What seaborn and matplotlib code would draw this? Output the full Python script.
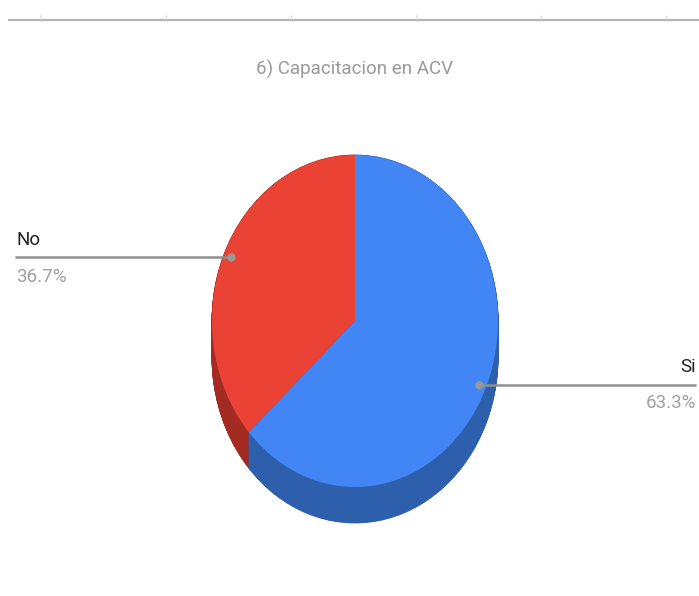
import matplotlib
matplotlib.use("Agg")
import matplotlib.pyplot as plt
import seaborn as sns
import numpy as np

categories = ["No", "Si"]
values = [36.7, 63.3]
pct_labels = ["36.7%", "63.3%"]
title = "6) Capacitacion en ACV"

sns.set_theme(style="white")
plt.rcParams['font.family'] = ['Roboto', 'DejaVu Sans']

W, H = 699, 596
fig = plt.figure(figsize=(W / 100, H / 100), dpi=100)
fig.patch.set_facecolor('white')

top_colors = ["#EA4335", "#4285F4"]
side_colors = ["#A32B22", "#2E5FAD"]

cx, cy, rx, ry, depth = 355, 321, 143, 166, 36
pax = fig.add_axes([(cx - rx) / W, (H - (cy + ry + depth)) / H, 2 * rx / W, (2 * ry + depth) / H])
d = depth / ry
for off in np.linspace(d, 0, 60):
    wedges, _ = pax.pie(values, colors=side_colors, startangle=90, counterclock=True,
                        radius=1, center=(0, -off), wedgeprops=dict(linewidth=0.6))
    for w in wedges:
        w.set_edgecolor(w.get_facecolor())
wedges, _ = pax.pie(values, colors=top_colors, startangle=90, counterclock=True,
                    radius=1, center=(0, 0), wedgeprops=dict(linewidth=0))
pax.set_aspect('auto')
pax.set_xlim(-1, 1)
pax.set_ylim(-1 - d, 1)
pax.axis('off')

# overlay in pixel coordinates
ax = fig.add_axes([0, 0, 1, 1], facecolor='none')
ax.set_xlim(0, W)
ax.set_ylim(H, 0)
ax.axis('off')

# top rule with ticks
ax.plot([8, W], [19.5, 19.5], color='#b5b5b5', lw=1.6, solid_capstyle='butt')
for tx in [40, 166, 291, 416, 541, 666]:
    ax.plot([tx, tx], [15, 19], color='#dcdcdc', lw=0.8)

ax.text(cx, 69, title, ha='center', va='center', fontsize=13.5, color='#9a9a9a')

# leader lines and labels
angles = []
start = 90.0
total = sum(values)
for v in values:
    span = 360 * v / total
    angles.append(start + span / 2)
    start += span

fs = 13.5
for cat, pct, ang in zip(categories, pct_labels, angles):
    a = np.deg2rad(ang)
    px = cx + rx * 0.95 * np.cos(a)
    py = cy - ry * 0.95 * np.sin(a)
    if np.cos(a) < 0:
        x_end = 15
        ax.plot([x_end, px], [py, py], color='#8f8f8f', lw=1.8, solid_capstyle='butt')
        ax.plot([px], [py], 'o', ms=5, color='#9a9a9a')
        ax.text(x_end + 1, py - 8, cat, ha='left', va='bottom', fontsize=fs, color='#222222')
        ax.text(x_end + 1, py + 11, pct, ha='left', va='top', fontsize=fs, color='#a0a0a0')
    else:
        x_end = 696
        ax.plot([px, x_end], [py, py], color='#8f8f8f', lw=1.8, solid_capstyle='butt')
        ax.plot([px], [py], 'o', ms=5, color='#9a9a9a')
        ax.text(x_end, py - 9, cat, ha='right', va='bottom', fontsize=fs, color='#222222')
        ax.text(x_end, py + 9, pct, ha='right', va='top', fontsize=fs, color='#a0a0a0')

fig.savefig("out.png", dpi=100)
